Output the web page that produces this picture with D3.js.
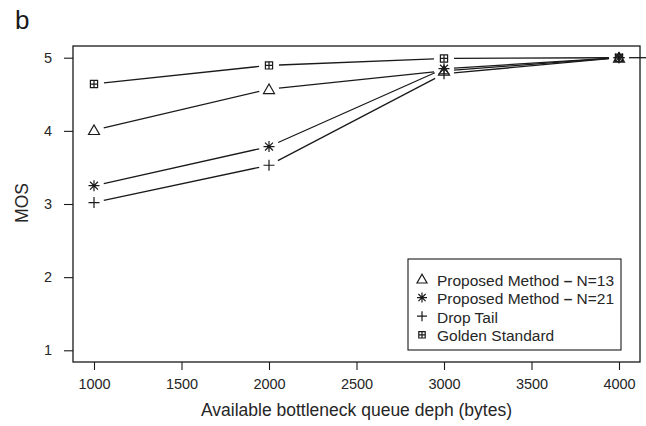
<!DOCTYPE html>
<html>
<head>
<meta charset="utf-8">
<script src="https://cdn.jsdelivr.net/npm/d3@7"></script>
<style>
  body { margin: 0; background: #fff; }
  svg { display: block; font-family: "Liberation Sans", Arial, sans-serif; }
</style>
</head>
<body>
<script>
// data
const queueDepth = [1000, 2000, 3000, 4000];
const proposed13 = [4.01, 4.57, 4.82, 5.0];
const proposed21 = [3.25, 3.785, 4.85, 5.0];
const dropTail   = [3.02, 3.53, 4.78, 5.0];
const golden     = [4.64, 4.895, 4.99, 5.0];
const xTicks = [1000, 1500, 2000, 2500, 3000, 3500, 4000];
const yTicks = [1, 2, 3, 4, 5];

const series = [
  {name: "Proposed Method", tag: "N=13", sym: "triangle", values: proposed13},
  {name: "Proposed Method", tag: "N=21", sym: "star", values: proposed21},
  {name: "Drop Tail", sym: "plus", values: dropTail},
  {name: "Golden Standard", sym: "boxplus", values: golden}
];

const W = 646, H = 426;
const svg = d3.select("body").append("svg").attr("width", W).attr("height", H);

// R style: 4% padding on each side of the data range
const x = d3.scaleLinear().domain([880, 4120]).range([73, 640]);
const y = d3.scaleLinear().domain([0.84, 5.16]).range([362, 46]);
const ink = "#1a1a1a";
const txt = "#262626";

// panel letter
svg.append("text").attr("x", 15).attr("y", 29)
  .attr("font-size", 26).attr("fill", ink).text("b");

// box
svg.append("rect").attr("x", 73).attr("y", 46).attr("width", 640 - 73).attr("height", 362 - 46)
  .attr("fill", "none").attr("stroke", ink).attr("stroke-width", 1.3);

// axes
const xAxis = svg.append("g").attr("transform", "translate(0,362)")
  .call(d3.axisBottom(x).tickValues(xTicks).tickSize(8).tickPadding(9).tickFormat(d3.format("d")));
const yAxis = svg.append("g").attr("transform", "translate(73,0)")
  .call(d3.axisLeft(y).tickValues(yTicks).tickSize(9).tickPadding(12).tickFormat(d3.format("d")));
[xAxis, yAxis].forEach(g => {
  g.select(".domain").remove();
  g.selectAll("line").attr("stroke", ink).attr("stroke-width", 1.1);
  g.selectAll("text").attr("font-size", 14.5).attr("fill", txt)
    .attr("font-family", "Liberation Sans, Arial, sans-serif");
});

svg.append("text").attr("x", x(2500)).attr("y", 416).attr("text-anchor", "middle")
  .attr("font-size", 17.5).attr("fill", txt).text("Available bottleneck queue deph (bytes)");
svg.append("text").attr("transform", "translate(28,203) rotate(-90)").attr("text-anchor", "middle")
  .attr("font-size", 17.5).attr("fill", txt).text("MOS");

// symbol drawing (R pch 2, 8, 3, 12)
function drawSym(g, sym, cx, cy, s) {
  const h = s / 2;
  let d = "";
  if (sym === "triangle") {
    d = `M${cx - h},${cy + h * 0.8}L${cx + h},${cy + h * 0.8}L${cx},${cy - h * 0.95}Z`;
  } else if (sym === "plus") {
    d = `M${cx - h},${cy}H${cx + h}M${cx},${cy - h}V${cy + h}`;
  } else if (sym === "star") {
    const k = h * 0.72;
    d = `M${cx - h},${cy}H${cx + h}M${cx},${cy - h}V${cy + h}` +
        `M${cx - k},${cy - k}L${cx + k},${cy + k}M${cx - k},${cy + k}L${cx + k},${cy - k}`;
  } else {
    const b = h * 0.8;
    d = `M${cx - b},${cy - b}h${2 * b}v${2 * b}h${-2 * b}Z` +
        `M${cx - b},${cy}H${cx + b}M${cx},${cy - b}V${cy + b}`;
  }
  g.append("path").attr("d", d)
    .attr("stroke", ink).attr("stroke-width", 1.2).attr("fill", "none");
}

// type = "b": points joined by segments with a gap around each point
const gap = 10;
series.forEach(s => {
  const pts = queueDepth.map((q, i) => [x(q), y(s.values[i])]);
  const g = svg.append("g");
  for (let i = 0; i < pts.length - 1; i++) {
    const [x0, y0] = pts[i], [x1, y1] = pts[i + 1];
    const len = Math.hypot(x1 - x0, y1 - y0);
    const ux = (x1 - x0) / len, uy = (y1 - y0) / len;
    g.append("line")
      .attr("x1", x0 + ux * gap).attr("y1", y0 + uy * gap)
      .attr("x2", x1 - ux * gap).attr("y2", y1 - uy * gap)
      .attr("stroke", ink).attr("stroke-width", 1.3);
  }
  pts.forEach(([px, py]) => drawSym(g, s.sym, px, py, s.sym === "boxplus" ? 9 : 11));
});

// the stray trailing segment past the last point, as in the original figure
svg.append("line").attr("x1", x(4000) + gap).attr("x2", W).attr("y1", y(5)).attr("y2", y(5))
  .attr("stroke", ink).attr("stroke-width", 1.3);

// legend
const lg = svg.append("g");
lg.append("rect").attr("x", 408).attr("y", 259).attr("width", 621 - 408).attr("height", 91)
  .attr("fill", "#fff").attr("stroke", ink).attr("stroke-width", 1.1);
series.forEach((s, i) => {
  const cy = 280 + i * 18.6;
  drawSym(lg, s.sym, 422, cy - 1, s.sym === "boxplus" ? 8 : 10);
  const t = lg.append("text").attr("x", 437).attr("y", cy + 5.5)
    .attr("font-size", 15.5).attr("fill", txt).text(s.name);
  if (s.tag) {
    t.append("tspan").attr("font-weight", "bold").text(" \u2013 ");
    t.append("tspan").text(s.tag);
  }
});
</script>
</body>
</html>
